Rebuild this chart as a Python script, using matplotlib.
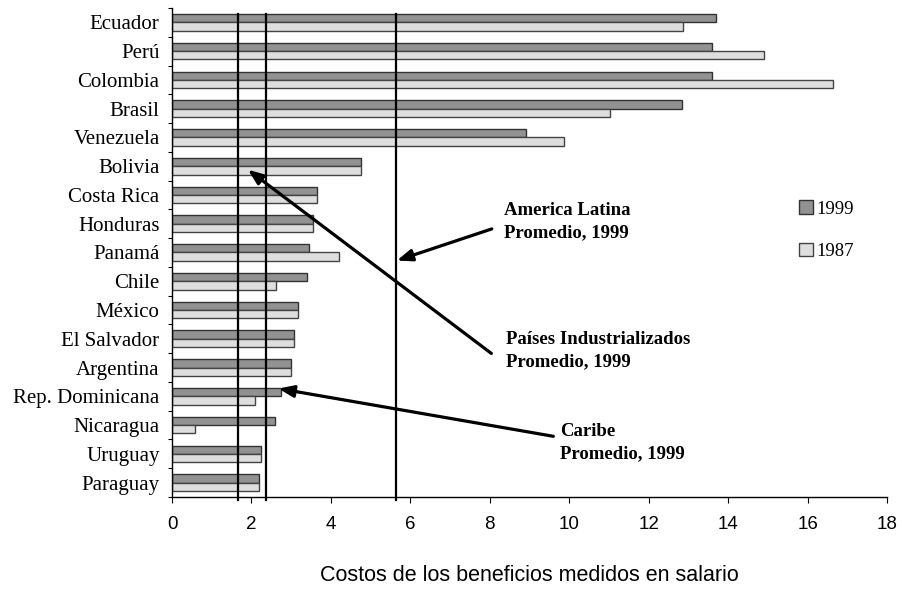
import matplotlib
matplotlib.use("Agg")
import matplotlib.pyplot as plt
from matplotlib.patches import Patch
import numpy as np

# costs of benefits measured in wages, by country
paises = ["Ecuador", "Perú", "Colombia", "Brasil", "Venezuela", "Bolivia",
          "Costa Rica", "Honduras", "Panamá", "Chile", "México", "El Salvador",
          "Argentina", "Rep. Dominicana", "Nicaragua", "Uruguay", "Paraguay"]
costos_1999 = [13.69, 13.60, 13.59, 12.84, 8.92, 4.77, 3.66, 3.55, 3.44, 3.39,
               3.16, 3.06, 3.00, 2.74, 2.58, 2.23, 2.18]
costos_1987 = [12.86, 14.90, 16.65, 11.02, 9.87, 4.77, 3.66, 3.54, 4.21, 2.63,
               3.16, 3.06, 3.00, 2.08, 0.59, 2.23, 2.18]

# regional averages for 1999
prom_industrializados = 1.65
prom_caribe = 2.37
prom_america_latina = 5.65

serif = ["Liberation Serif", "DejaVu Serif"]
sans = ["Liberation Sans", "DejaVu Sans"]

fig = plt.figure(figsize=(9.03, 5.93), dpi=100)
ax = fig.add_axes([0.1905, 0.1619, 0.7918, 0.8246])

n = len(paises)
pos = np.arange(n)[::-1]
h = 0.29

ax.barh(pos + h / 2, costos_1999, height=h, color="#929292",
        edgecolor="#333333", linewidth=1.0, label="1999", zorder=2)
ax.barh(pos - h / 2, costos_1987, height=h, color="#dedede",
        edgecolor="#444444", linewidth=1.0, label="1987", zorder=2)

# average lines
for v in (prom_industrializados, prom_caribe, prom_america_latina):
    ax.plot([v, v], [-0.6, 16.3], color="black", lw=1.6, zorder=3,
            clip_on=False)

ax.set_xlim(0, 18)
ax.set_ylim(-0.5, 16.5)
ax.set_xticks(np.arange(0, 19, 2))
ax.set_xticklabels([str(v) for v in range(0, 19, 2)], fontfamily=sans,
                   fontsize=13.5)
ax.set_yticks(pos)
ax.set_yticklabels(paises, fontfamily=serif, fontsize=15)
ax.set_yticks(np.arange(-0.5, n, 1.0), minor=True)
ax.tick_params(axis="y", which="major", length=0, pad=9)
ax.tick_params(axis="y", which="minor", length=3, width=0.8)
ax.tick_params(axis="x", length=4, width=0.8, pad=10)
for s in ("top", "right"):
    ax.spines[s].set_visible(False)
for s in ("left", "bottom"):
    ax.spines[s].set_linewidth(1.0)

ax.set_xlabel("Costos de los beneficios medidos en salario",
              fontfamily=sans, fontsize=15.5, labelpad=23)

# annotations
bold = dict(fontfamily=serif, fontsize=13.5, fontweight="bold",
            va="center", ha="left", linespacing=1.4)
flecha = dict(arrowstyle="-|>,head_length=0.9,head_width=0.35",
              lw=2.3, color="black", shrinkA=0, shrinkB=0)

ax.text(8.36, 9.07, "America Latina\nPromedio, 1999", **bold)
ax.annotate("", xy=(5.66, 7.72), xytext=(8.05, 8.82), arrowprops=flecha)

ax.text(8.41, 4.59, "Países Industrializados\nPromedio, 1999", **bold)
ax.annotate("", xy=(1.91, 10.88), xytext=(8.04, 4.49), arrowprops=flecha)

ax.text(9.77, 1.40, "Caribe\nPromedio, 1999", **bold)
ax.annotate("", xy=(2.68, 3.27), xytext=(9.60, 1.61), arrowprops=flecha)

handles = [Patch(facecolor="#929292", edgecolor="#333333", label="1999"),
           Patch(facecolor="#dedede", edgecolor="#444444", label="1987")]
fig.legend(handles=handles, loc="upper left", bbox_to_anchor=(0.875, 0.678),
           frameon=False, prop={"family": serif, "size": 13.5},
           handlelength=0.72, handleheight=0.72, handletextpad=0.2,
           labelspacing=1.35, borderpad=0)

fig.savefig("out.png", dpi=100)
